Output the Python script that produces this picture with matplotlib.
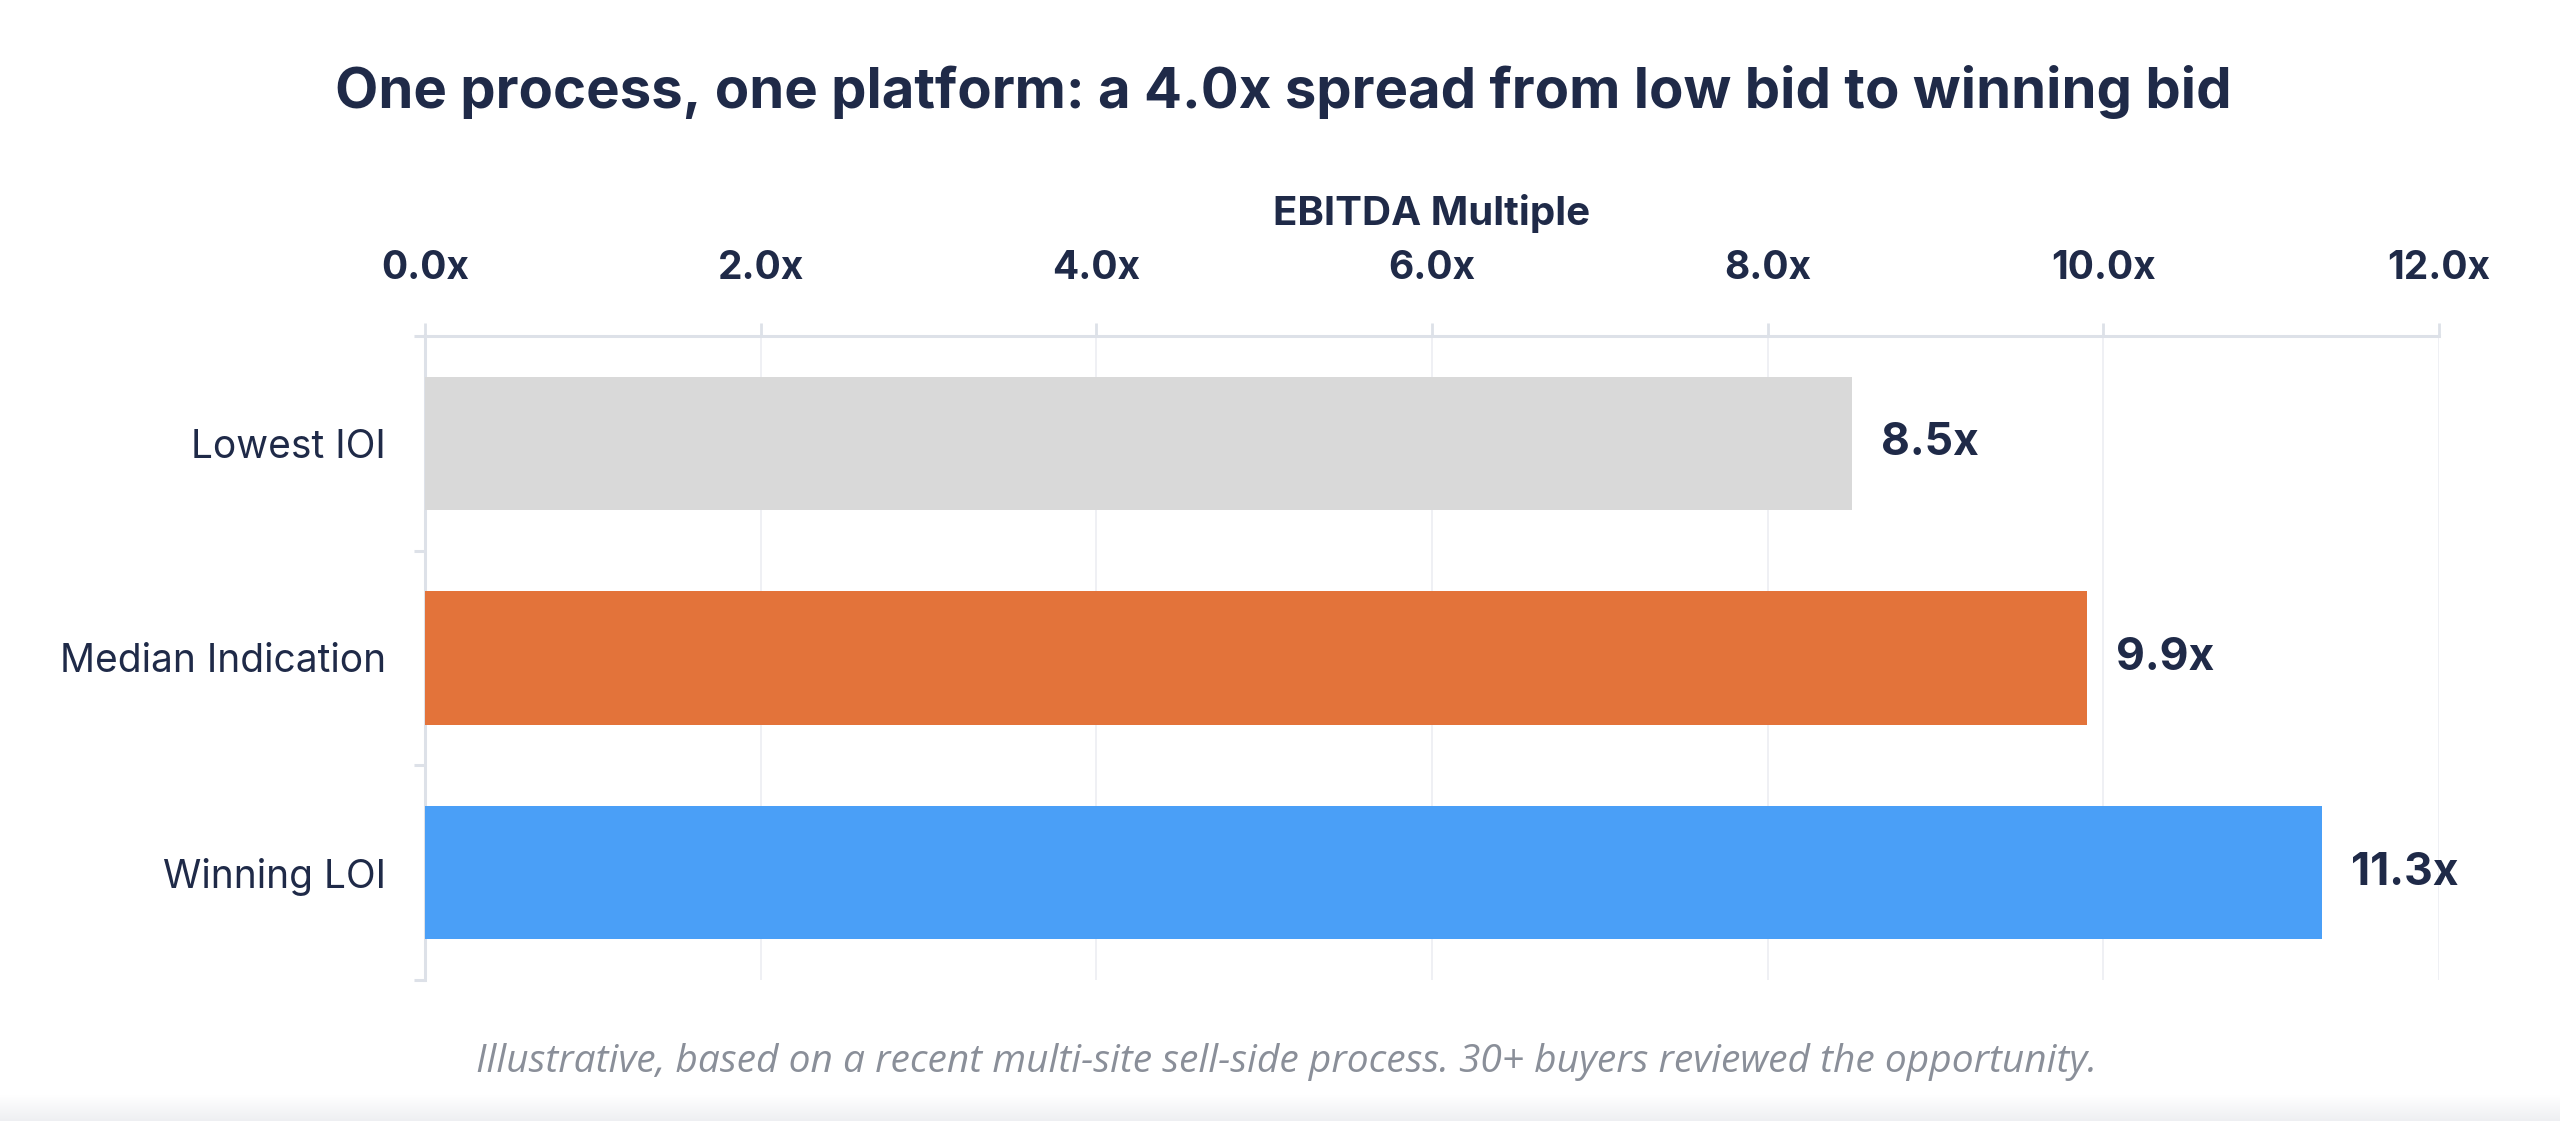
import numpy as np
import matplotlib
matplotlib.use("Agg")
import matplotlib.pyplot as plt

# data
categories = ["Lowest IOI", "Median Indication", "Winning LOI"]
multiples = [8.5, 9.9, 11.3]
bar_colors = ["#d9d9d9", "#e3733a", "#4a9ff7"]
xticks = [0, 2, 4, 6, 8, 10, 12]

navy = "#1f2a48"
spine_col = "#dde1e8"
grid_col = "#eceef2"

W, H = 2560, 1121
fig = plt.figure(figsize=(W / 100, H / 100), dpi=100)
fig.patch.set_facecolor("white")

# faint card shadow at the very bottom
sh = fig.add_axes([0, 0, 1, 26 / H])
grad = np.linspace(0, 1, 50).reshape(-1, 1)
sh.imshow(grad, aspect="auto", cmap=matplotlib.colors.LinearSegmentedColormap.from_list("s", ["#eeeff2", "#ffffff"]),
          extent=[0, 1, 0, 1], origin="lower")
sh.axis("off")

ax = fig.add_axes([425 / W, 1 - 980 / H, 2014 / W, 644 / H])
y = np.arange(len(categories))
ax.barh(y, multiples, height=0.62, color=bar_colors, zorder=3)
ax.set_xlim(0, 12)
ax.set_ylim(2.5, -0.5)

ax.xaxis.set_ticks_position("top")
ax.xaxis.set_label_position("top")
ax.set_xticks(xticks)
ax.set_xticklabels([f"{v:.1f}x" for v in xticks], fontfamily="Inter", fontweight="bold",
                   fontsize=28, color=navy)
ax.tick_params(axis="x", which="major", length=9.5, width=2, color=spine_col, pad=26, direction="out")
ax.set_xlabel("EBITDA Multiple", fontfamily="Inter", fontweight="bold", fontsize=29, color=navy, labelpad=18)

ax.set_yticks(y)
ax.set_yticklabels(categories, fontfamily="Inter", fontsize=28, color=navy)
ax.tick_params(axis="y", which="major", length=0, pad=28)
ax.set_yticks([-0.5, 0.5, 1.5, 2.5], minor=True)
ax.tick_params(axis="y", which="minor", length=8, width=2.2, color=spine_col, direction="out")

ax.grid(axis="x", color=grid_col, linewidth=1.2, zorder=0)
for s in ["right", "bottom"]:
    ax.spines[s].set_visible(False)
for s in ["top", "left"]:
    ax.spines[s].set_color(spine_col)
    ax.spines[s].set_linewidth(2.2)

for yi, v in zip(y, multiples):
    ax.annotate(f"{v:.1f}x", (v, yi), xytext=(21, 0), textcoords="offset points",
                va="center", ha="left", fontfamily="Inter", fontweight="bold", fontsize=32, color=navy)

fig.text(1283 / W, 1 - 108 / H, "One process, one platform: a 4.0x spread from low bid to winning bid",
         ha="center", va="baseline", fontfamily="Inter", fontweight="bold", fontsize=40.5, color=navy)
fig.text(1286 / W, 1 - 1072 / H,
         "Illustrative, based on a recent multi-site sell-side process. 30+ buyers reviewed the opportunity.",
         ha="center", va="baseline", fontfamily="Open Sans", fontstyle="italic", fontsize=28, color="#8a8f99")

fig.savefig("out.png", dpi=100, facecolor="white")
